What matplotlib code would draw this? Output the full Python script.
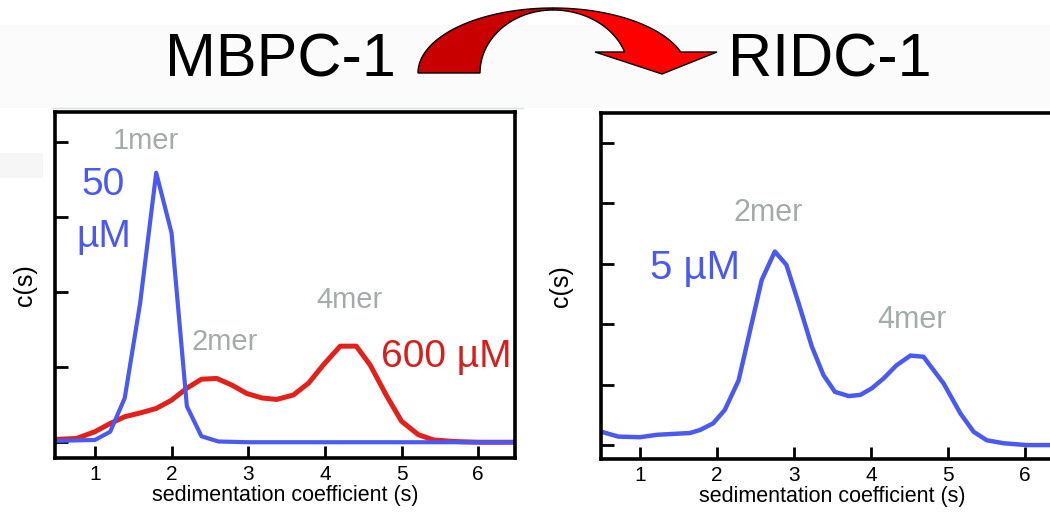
import numpy as np
import matplotlib
matplotlib.use('Agg')
import matplotlib.pyplot as plt
from matplotlib.patches import Polygon, Rectangle

plt.rcParams['font.family'] = ['Liberation Sans', 'DejaVu Sans']

BLUE = '#4a5af0'
RED = '#e4201a'
RED_TEXT = '#d61f1c'
GRAY = '#a4acab'

# MBPC-1, 50 uM
s_50 = [0.48, 0.54, 1.0, 1.2, 1.39, 1.59, 1.80, 2.0, 2.2, 2.39, 2.61, 3.0, 4.0, 5.0, 6.0, 6.48]
c_50 = [0.02, 0.02, 0.03, 0.14, 0.59, 1.85, 3.59, 2.79, 0.48, 0.08, 0.01, 0.0, 0.0, 0.0, 0.0, 0.0]

# MBPC-1, 600 uM
s_600 = [0.48, 0.54, 0.76, 1.0, 1.2, 1.39, 1.59, 1.80, 2.0, 2.2, 2.39, 2.59, 2.79, 2.98, 3.18,
         3.37, 3.59, 3.79, 3.98, 4.2, 4.41, 4.59, 4.81, 5.0, 5.22, 5.42, 5.68, 6.0, 6.48]
c_600 = [0.04, 0.04, 0.05, 0.14, 0.25, 0.34, 0.39, 0.45, 0.56, 0.72, 0.84, 0.85, 0.76, 0.65, 0.59,
         0.57, 0.63, 0.79, 1.03, 1.28, 1.28, 1.03, 0.61, 0.28, 0.10, 0.03, 0.01, 0.0, 0.0]

# RIDC-1, 5 uM
s_5 = [0.49, 0.50, 0.72, 1.0, 1.22, 1.65, 1.78, 1.95, 2.10, 2.28, 2.43, 2.58, 2.75, 2.90, 3.06,
       3.23, 3.38, 3.53, 3.71, 3.86, 4.01, 4.16, 4.33, 4.51, 4.68, 4.94, 5.16, 5.33, 5.50, 5.72,
       6.02, 6.49]
c_5 = [0.23, 0.22, 0.14, 0.13, 0.17, 0.20, 0.25, 0.36, 0.58, 1.07, 1.90, 2.73, 3.20, 2.98, 2.34,
       1.63, 1.16, 0.88, 0.81, 0.83, 0.94, 1.10, 1.32, 1.48, 1.46, 1.02, 0.52, 0.22, 0.08, 0.03,
       0.0, 0.0]

x_ticks = [1, 2, 3, 4, 5, 6]

W, H = 1050, 522
fig = plt.figure(figsize=(W / 100, H / 100), dpi=100)


def px(x, y):
    return (x / W, 1 - y / H)


# faint background smudges from the original slide
fig.patches.append(Rectangle(px(0, 108), 1, 83 / H, transform=fig.transFigure,
                             facecolor='#fbfbfb', edgecolor='none', zorder=0))
fig.patches.append(Rectangle(px(0, 178), 43 / W, 25 / H, transform=fig.transFigure,
                             facecolor='#f6f6f6', edgecolor='none', zorder=0))
fig.lines.append(plt.Line2D([53 / W, 523 / W], [1 - 108 / H, 1 - 108 / H], transform=fig.transFigure,
                            color='#dde0e0', lw=1))


def style_axes(ax, xlim, ylim, yticks):
    ax.set_xlim(*xlim)
    ax.set_ylim(*ylim)
    ax.set_xticks(x_ticks)
    ax.set_yticks(yticks)
    ax.set_yticklabels([])
    ax.tick_params(direction='in', length=9, width=2, labelsize=15, pad=5)
    for sp in ax.spines.values():
        sp.set_linewidth(2.6)
    ax.set_xlabel('sedimentation coefficient (s)', fontsize=15.5, labelpad=1)
    ax.set_ylabel('c(s)', fontsize=18)


ax1 = fig.add_axes([55 / W, 1 - 458 / H, 460 / W, 346 / H])
ax1.plot(s_600, c_600, color=RED, lw=3.6, solid_joinstyle='round')
ax1.plot(s_50, c_50, color=BLUE, lw=3.0, solid_joinstyle='round')
style_axes(ax1, (0.48, 6.48), (-0.21, 4.4), [0, 1, 2, 3, 4])
ax1.yaxis.set_label_coords(-0.04, 0.5)
ax1.text(1.66, 4.01, '1mer', color=GRAY, fontsize=21, ha='center', va='center')
ax1.text(2.69, 1.34, '2mer', color=GRAY, fontsize=21, ha='center', va='center')
ax1.text(4.32, 1.90, '4mer', color=GRAY, fontsize=21, ha='center', va='center')
ax1.text(1.11, 3.43, '50', color=BLUE, fontsize=28, ha='center', va='center')
ax1.text(1.12, 2.74, 'µM', color=BLUE, fontsize=28, ha='center', va='center')
ax1.text(5.58, 1.14, '600 µM', color=RED_TEXT, fontsize=28, ha='center', va='center')

ax2 = fig.add_axes([600.7 / W, 1 - 459 / H, 462.3 / W, 346 / H])
ax2.plot(s_5, c_5, color=BLUE, lw=3.2, solid_joinstyle='round')
style_axes(ax2, (0.49, 6.49), (-0.23, 5.49), [0, 1, 2, 3, 4, 5])
ax2.yaxis.set_label_coords(-0.06, 0.5)
ax2.text(2.67, 3.83, '2mer', color=GRAY, fontsize=22, ha='center', va='center')
ax2.text(4.53, 2.07, '4mer', color=GRAY, fontsize=22, ha='center', va='center')
ax2.text(1.72, 2.92, '5 µM', color=BLUE, fontsize=29, ha='center', va='center')

# titles
fig.text(*px(280, 61), 'MBPC-1', fontsize=44, ha='center', va='center')
fig.text(*px(830, 61), 'RIDC-1', fontsize=44, ha='center', va='center')

# curved arrow (two pieces: dark left half, bright right half with head)
t = np.linspace(np.pi, np.pi / 2, 40)
outer = [px(553 + 135 * np.cos(a), 73 - 65 * np.sin(a)) for a in t]
inner = [px(553 + 73 * np.cos(a), 73 - 63 * np.sin(a)) for a in t]
left_piece = outer + inner[::-1]
fig.patches.append(Polygon(left_piece, closed=True, transform=fig.transFigure,
                           facecolor='#c80000', edgecolor='black', lw=1, zorder=3))

t2 = np.linspace(np.pi / 2, np.arcsin(21 / 65), 40)
outer2 = [px(553 + 135 * np.cos(a), 73 - 65 * np.sin(a)) for a in t2]
t3 = np.linspace(np.arcsin(21 / 63), np.pi / 2, 40)
inner2 = [px(553 + 76 * np.cos(a), 73 - 63 * np.sin(a)) for a in t3]
right_piece = outer2 + [px(717, 52), px(662, 74), px(595, 52)] + inner2
fig.patches.append(Polygon(right_piece, closed=True, transform=fig.transFigure,
                           facecolor='#ff0000', edgecolor='black', lw=1, zorder=3))

fig.savefig('out.png', dpi=100)
